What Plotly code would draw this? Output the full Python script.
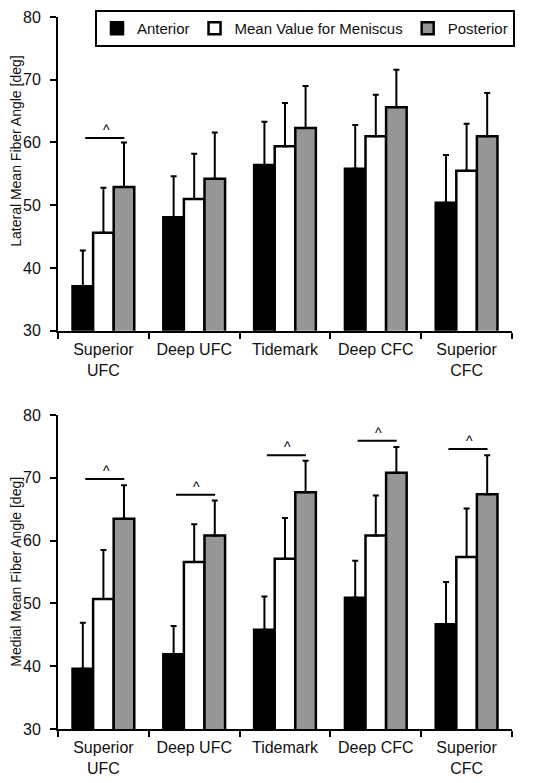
import plotly.graph_objects as go

categories = ["Superior<br>UFC", "Deep UFC", "Tidemark", "Deep CFC", "Superior<br>CFC"]
series_names = ["Anterior", "Mean Value for Meniscus", "Posterior"]

# Lateral (top panel)
lat_anterior = [37.1, 48.1, 56.4, 55.8, 50.4]
lat_anterior_err = [5.7, 6.5, 6.9, 7.0, 7.6]
lat_mean = [45.6, 51.0, 59.4, 61.0, 55.5]
lat_mean_err = [7.2, 7.2, 6.9, 6.6, 7.5]
lat_posterior = [52.9, 54.2, 62.3, 65.6, 61.0]
lat_posterior_err = [7.1, 7.4, 6.7, 6.0, 6.9]
lat_sig = [60.7, None, None, None, None]

# Medial (bottom panel)
med_anterior = [39.6, 41.9, 45.8, 50.9, 46.7]
med_anterior_err = [7.3, 4.5, 5.3, 5.9, 6.7]
med_mean = [50.7, 56.6, 57.1, 60.8, 57.4]
med_mean_err = [7.8, 6.0, 6.5, 6.4, 7.7]
med_posterior = [63.5, 60.8, 67.7, 70.8, 67.4]
med_posterior_err = [5.3, 5.6, 5.0, 4.1, 6.2]
med_sig = [69.8, 67.3, 73.6, 75.9, 74.6]

y_ticks = [30, 40, 50, 60, 70, 80]
y_titles = ["Lateral Mean Fiber Angle [deg]", "Medial Mean Fiber Angle [deg]"]
colors = ["#000000", "#ffffff", "#969696"]
FONT = "Arial, Liberation Sans, sans-serif"

fig = go.Figure()

panels = [
    ("x", "y", [lat_anterior, lat_mean, lat_posterior],
     [lat_anterior_err, lat_mean_err, lat_posterior_err], True),
    ("x2", "y2", [med_anterior, med_mean, med_posterior],
     [med_anterior_err, med_mean_err, med_posterior_err], False),
]

for xa, ya, vals, errs, show in panels:
    for k in range(3):
        fig.add_trace(go.Bar(
            x=categories, y=vals[k], name=series_names[k],
            xaxis=xa, yaxis=ya, showlegend=show, legendgroup=series_names[k],
            marker=dict(color=colors[k], line=dict(color="black", width=2.5)),
            error_y=dict(type="data", array=errs[k], arrayminus=[0] * len(errs[k]),
                         symmetric=False, color="black", thickness=2, width=3),
        ))

# significance lines
for yref, xref, sig in [("y", "x", lat_sig), ("y2", "x2", med_sig)]:
    for i, s in enumerate(sig):
        if s is None:
            continue
        fig.add_shape(type="line", xref=xref, yref=yref, x0=i - 0.2, x1=i + 0.23,
                      y0=s, y1=s, line=dict(color="black", width=2))
        fig.add_annotation(xref=xref, yref=yref, x=i + 0.03, y=s, text="^",
                           showarrow=False, yanchor="bottom", yshift=-2,
                           font=dict(family=FONT, size=14, color="black"))

# y-axis titles
for txt, yc in zip(y_titles, [0.8118, 0.2205]):
    fig.add_annotation(xref="paper", yref="paper", x=-0.093, y=yc, text=txt,
                       textangle=-90, showarrow=False, xanchor="center", yanchor="middle",
                       font=dict(family=FONT, size=14, color="#111"))

axis_common = dict(showline=True, linecolor="black", linewidth=2, mirror=False,
                   ticks="outside", tickcolor="black", tickwidth=2, ticklen=6,
                   showgrid=False, zeroline=False,
                   tickfont=dict(family=FONT, size=16, color="#111"))

# page body has an 8px default margin: size the figure to fit inside the window
fig.update_layout(
    width=537, height=775,
    margin=dict(l=50, r=33, t=9, b=54, autoexpand=False),
    paper_bgcolor="white", plot_bgcolor="white",
    barmode="group", bargap=0.32, bargroupgap=0,
    font=dict(family=FONT, size=15, color="#111"),
    xaxis=dict(anchor="y", domain=[0, 1], tickson="boundaries", ticklabelstandoff=3,
               **axis_common),
    xaxis2=dict(anchor="y2", domain=[0, 1], tickson="boundaries",
                ticklabelstandoff=3, **axis_common),
    yaxis=dict(anchor="x", domain=[0.5594, 1], range=[30, 80], tickvals=y_ticks,
               ticklabelstandoff=6, **axis_common),
    yaxis2=dict(anchor="x2", domain=[0, 0.441], range=[30, 80], tickvals=y_ticks,
                ticklabelstandoff=6, **axis_common),
    legend=dict(orientation="h", x=0.0815, y=1.0098, xanchor="left", yanchor="top",
                bgcolor="white", bordercolor="black", borderwidth=2,
                font=dict(family=FONT, size=15, color="#111"),
                itemwidth=30, traceorder="normal"),
)

fig.write_html("out.html")
